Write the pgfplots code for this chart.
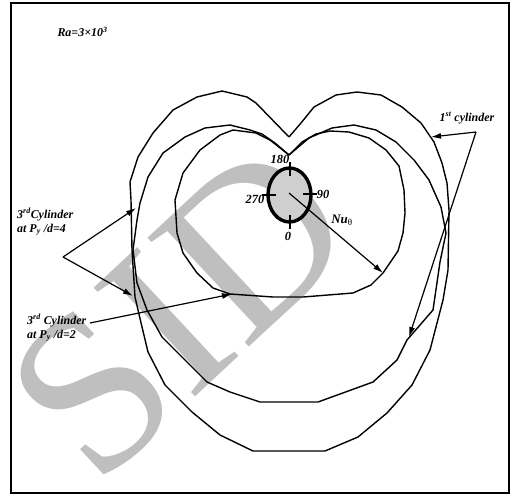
\documentclass[border=0pt]{standalone}
\usepackage{fontspec}
\setmainfont{Liberation Serif}
\usepackage{pgfplots}
\pgfplotsset{compat=1.18}
\usetikzlibrary{arrows.meta}

\begin{document}
\begin{tikzpicture}
\begin{axis}[
  at={(0,0)}, anchor=south west,
  scale only axis, width=512bp, height=495bp,
  xmin=0, xmax=512, ymin=0, ymax=495,
  y dir=reverse, hide axis, clip=true,
]
% watermark
\node[rotate=43, text=gray!50, inner sep=0pt,
      font=\fontsize{228}{228}\selectfont] at (axis cs:180,310) {SID};

% local Nusselt number distributions (polar traces)
\addplot[black, line width=1.4bp] table {
x y
289 137
256 103
247 97
222 91
197 97
173 110
153 133
138 157
130 182
131 200
132 250
135 297
142 327
148 352
165 385
192 412
220 435
253 451
325 451
358 437
387 413
412 385
430 350
443 300
448 270
449 210
447 183
442 163
434 142
421 123
402 107
381 95
357 92
336 95
314 107
301 123
289 137
};
\addplot[black, line width=1.4bp] table {
x y
289 155
275 143
262 134
250 130
230 125
205 128
185 137
163 153
148 177
140 203
137 220
133 250
137 283
147 310
162 337
182 357
207 382
230 392
260 402
318 402
373 382
397 360
407 340
433 310
440 262
446 233
441 207
429 180
414 160
396 142
376 130
354 125
332 128
309 138
289 155
};
\addplot[black, line width=1.4bp] table {
x y
289 155
270 140
256 133
233 130
220 135
200 150
183 173
175 200
177 233
183 253
197 273
213 288
230 294
273 297
303 297
353 293
371 285
383 273
398 251
403 233
405 213
404 190
399 166
386 150
369 138
349 132
330 131
316 134
302 142
289 155
};

% cylinder with angular positions
\draw[line width=3.4bp, fill=gray!38] (axis cs:289.5,195) ellipse [x radius=21.5bp, y radius=27bp];
\draw[line width=2bp] (axis cs:289.5,162) -- (axis cs:289.5,176);
\draw[line width=2bp] (axis cs:289.5,215) -- (axis cs:289.5,229);
\draw[line width=2bp] (axis cs:262,195) -- (axis cs:276,195);
\draw[line width=2bp] (axis cs:303,194) -- (axis cs:317,194);
\begin{scope}[font=\fontsize{12.5}{14}\selectfont\bfseries\itshape]
\node at (axis cs:280,159) {180};
\node at (axis cs:255,199) {270};
\node at (axis cs:323,194) {90};
\node at (axis cs:288,236) {0};
\end{scope}

\draw[-{Latex[length=10bp,width=6bp]}, line width=1.2bp]
  (axis cs:289,193) -- (axis cs:383,273);
\node[font=\fontsize{13}{14}\selectfont] at (axis cs:342,220)
  {\textbf{\textit{Nu}}\textsubscript{θ}};

% annotations
\begin{scope}[font=\fontsize{12}{14}\selectfont\bfseries\itshape]
\node[anchor=west] at (axis cs:54,32) {Ra=3×10\textsuperscript{3}};
\node at (axis cs:467,118) {1\textsuperscript{st} cylinder};
\node[anchor=west, align=left, inner sep=0pt] at (axis cs:17,222)
  {3\textsuperscript{rd}Cylinder\\at P\textsubscript{y} /d=4};
\node[anchor=west, align=left, inner sep=0pt] at (axis cs:27,328)
  {3\textsuperscript{rd} Cylinder\\at P\textsubscript{y} /d=2};
\end{scope}

\begin{scope}[-{Latex[length=10bp,width=6bp]}, line width=1.2bp]
\draw (axis cs:476,132) -- (axis cs:431,137);
\draw (axis cs:476,132) -- (axis cs:409,337);
\draw (axis cs:63,257) -- (axis cs:136,208);
\draw (axis cs:63,257) -- (axis cs:133,296);
\draw (axis cs:90,323) -- (axis cs:232,294);
\end{scope}

% frame
\draw[line width=1.7bp] (axis cs:11,3) rectangle (axis cs:509,493);
\end{axis}
\pgfresetboundingbox
\useasboundingbox (current axis.south west) rectangle (current axis.north east);
\end{tikzpicture}
\end{document}
